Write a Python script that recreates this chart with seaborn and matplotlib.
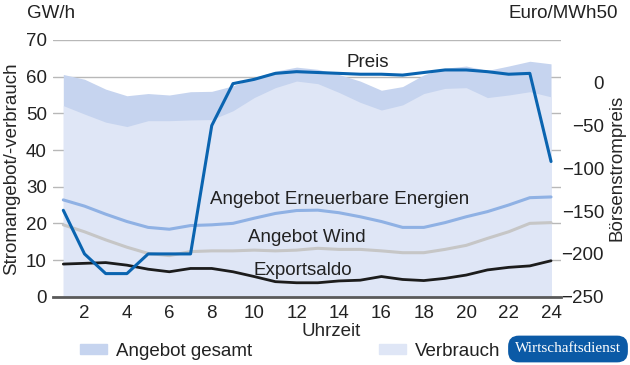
import pandas as pd
import matplotlib.pyplot as plt
import seaborn as sns
from matplotlib.patches import Patch

# values (GW for supply/demand, Euro/MWh for price)
stunde = list(range(1, 25))
angebot = [60.6, 59.3, 56.6, 54.8, 55.4, 55.0, 55.9, 56.0, 57.5, 59.7, 61.5, 62.6,
           62.0, 60.6, 58.8, 56.3, 57.3, 60.5, 62.3, 62.9, 61.7, 62.9, 64.2, 63.5]
verbrauch = [52.1, 49.8, 47.6, 46.4, 48.0, 48.0, 48.2, 48.3, 50.7, 54.3, 57.0, 58.8,
             58.1, 55.7, 53.0, 50.9, 52.3, 55.4, 56.8, 57.0, 54.3, 55.0, 55.9, 54.5]
erneuerbare = [26.4, 24.7, 22.5, 20.5, 18.9, 18.4, 19.4, 19.6, 20.0, 21.4, 22.7, 23.5,
               23.6, 22.9, 21.8, 20.5, 18.9, 18.9, 20.2, 21.8, 23.2, 25.0, 27.0, 27.2]
wind = [19.6, 17.7, 15.5, 13.5, 11.8, 11.2, 12.3, 12.5, 12.5, 12.7, 12.5, 12.7,
        13.2, 12.9, 12.9, 12.5, 12.0, 12.0, 12.9, 14.0, 15.9, 17.7, 20.0, 20.2]
export = [8.9, 9.1, 9.3, 8.6, 7.5, 6.8, 7.7, 7.7, 6.8, 5.5, 4.1, 3.8,
          3.8, 4.3, 4.5, 5.5, 4.7, 4.4, 5.0, 5.9, 7.3, 8.0, 8.4, 9.8]
preis = [-149, -200, -223, -223, -200, -200, -200, -50, -1, 4, 11, 13,
         12, 11, 10, 10, 9, 12, 15, 15, 13, 10, 11, -92]

df = pd.DataFrame({"stunde": stunde, "angebot": angebot, "verbrauch": verbrauch,
                   "erneuerbare": erneuerbare, "wind": wind, "export": export,
                   "preis": preis})

sns.set_theme(style="white")
plt.rcParams["font.family"] = ["Liberation Sans", "DejaVu Sans"]
plt.rcParams["text.color"] = "#222222"
fs = 13.5

c_angebot = "#c6d4ef"
c_verbrauch = "#dfe6f6"
c_grid = "#b8b8b8"

fig = plt.figure(figsize=(6.3, 3.65), dpi=100)
ax = fig.add_axes([53 / 630, 1 - 296.7 / 365, 508 / 630, 256.7 / 365])

ax.fill_between(df["stunde"], 0, df["angebot"], color=c_angebot, lw=0, zorder=1)
ax.fill_between(df["stunde"], 0, df["verbrauch"], color=c_verbrauch, lw=0, zorder=1.1)
sns.lineplot(data=df, x="stunde", y="erneuerbare", ax=ax, color="#8fb1e4", lw=2.2, zorder=3)
sns.lineplot(data=df, x="stunde", y="wind", ax=ax, color="#c6c6c6", lw=2.2, zorder=3)
sns.lineplot(data=df, x="stunde", y="export", ax=ax, color="#1c1c1c", lw=2.0, zorder=3)

ax.set_xlim(0.514, 24.47)
ax.set_ylim(0, 70)
ax.set_yticks(range(0, 71, 10))
ax.set_xticks(range(2, 25, 2))
ax.set_axisbelow(True)
ax.grid(axis="y", color=c_grid, lw=1)
ax.grid(axis="x", visible=False)
ax.tick_params(axis="both", length=0, labelsize=fs, colors="#222222")
ax.tick_params(axis="y", pad=4.5)
ax.tick_params(axis="x", pad=6)
for s in ["top", "left", "right"]:
    ax.spines[s].set_visible(False)
ax.spines["bottom"].set_color("#5a5a5a")
ax.spines["bottom"].set_linewidth(2)

ax.set_xlabel("Uhrzeit", fontsize=fs)
ax.xaxis.set_label_coords((331 - 53) / 508, (296.7 - 331) / 256.7)
ax.xaxis.label.set_va("center")
ax.set_ylabel("Stromangebot/-verbrauch", fontsize=fs)
ax.yaxis.set_label_coords((12 - 53) / 508, 0.5)
ax.yaxis.label.set_va("center")

# price on the second axis
ax2 = ax.twinx()
sns.lineplot(data=df, x="stunde", y="preis", ax=ax2, color="#0a64b0", lw=2.2, zorder=4)
ax2.set_ylim(-250, 50)
ax2.set_yticks(range(-250, 1, 50))
ax2.tick_params(axis="y", length=0, labelsize=fs, pad=31, colors="#222222")
plt.setp(ax2.get_yticklabels(), ha="right")
for s in ax2.spines.values():
    s.set_visible(False)
ax2.grid(False)
ax2.set_ylabel("Börsenstrompreis", fontsize=fs, rotation=90)
ax2.yaxis.set_label_coords((617 - 53) / 508, 0.5)
ax2.yaxis.label.set_va("center")

# series labels
ax.text(15.34, 62.7, "Preis", fontsize=fs, ha="center", va="baseline")
ax.text(7.92, 25.4, "Angebot Erneuerbare Energien", fontsize=fs, va="baseline")
ax.text(9.71, 15.0, "Angebot Wind", fontsize=fs, va="baseline")
ax.text(9.95, 5.9, "Exportsaldo", fontsize=fs, va="baseline")

fig.text(27 / 630, 1 - 14 / 365, "GW/h", fontsize=fs, va="center")
fig.text(618 / 630, 1 - 14 / 365, "Euro/MWh50", fontsize=fs, ha="right", va="center")

fig.legend(handles=[Patch(color=c_angebot, label="Angebot gesamt"),
                    Patch(color=c_verbrauch, label="Verbrauch")],
           loc="center left", bbox_to_anchor=(80 / 630, 1 - 351 / 365), ncol=2,
           frameon=False, borderpad=0, borderaxespad=0, handlelength=1.45,
           handleheight=0.45, handletextpad=0.45, columnspacing=6.8, fontsize=fs)

fig.text(568 / 630, 1 - 349 / 365, "Wirtschaftsdienst", fontsize=11, color="white",
         family="Liberation Serif", ha="center", va="center",
         bbox=dict(boxstyle="round,pad=0.45,rounding_size=0.7", fc="#0b5aa6", ec="none"))

fig.savefig("out.png", dpi=100)
